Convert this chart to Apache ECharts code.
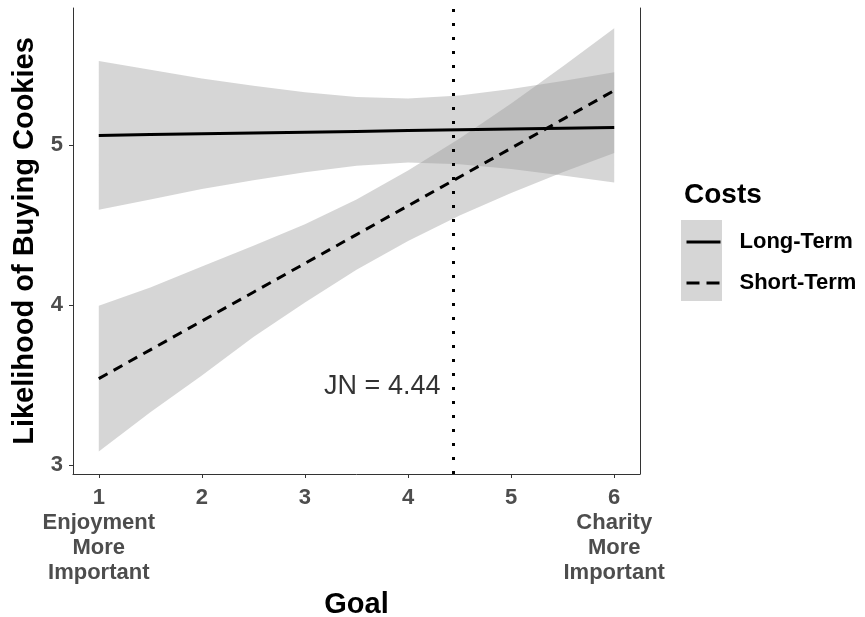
<!DOCTYPE html>
<html>
<head>
<meta charset="utf-8">
<script src="https://cdn.jsdelivr.net/npm/echarts@6/dist/echarts.min.js"></script>
<style>html,body{margin:0;padding:0;background:#fff}#c{width:865px;height:617px}</style>
</head>
<body>
<div id="c"></div>
<script>
// ---- data ----
const goalX = [1, 1.5, 2, 2.5, 3, 3.5, 4, 4.5, 5, 5.5, 6];
const longFit   = [5.06, 5.065, 5.07, 5.075, 5.08, 5.085, 5.09, 5.095, 5.10, 5.105, 5.11];
const longLower = [4.595, 4.66, 4.725, 4.78, 4.83, 4.87, 4.89, 4.88, 4.85, 4.81, 4.765];
const longUpper = [5.525, 5.47, 5.415, 5.37, 5.33, 5.30, 5.29, 5.31, 5.35, 5.40, 5.455];
const shortFit   = [3.54, 3.72, 3.90, 4.08, 4.26, 4.44, 4.62, 4.80, 4.98, 5.16, 5.34];
const shortLower = [3.085, 3.33, 3.56, 3.80, 4.015, 4.22, 4.40, 4.56, 4.70, 4.83, 4.95];
const shortUpper = [3.995, 4.11, 4.24, 4.37, 4.505, 4.66, 4.84, 5.04, 5.26, 5.49, 5.73];
const xTickValues = [1, 2, 3, 4, 5, 6];
const xTickLabels = ['1\nEnjoyment\nMore\nImportant', '2', '3', '4', '5', '6\nCharity\nMore\nImportant'];
const yTickValues = [3, 4, 5];
const seriesNames = ['Long-Term', 'Short-Term'];
const jnValue = 4.44;
const jnText = 'JN = 4.44';
const jnTextAt = [3.75, 3.49];

const FONT = "'Liberation Sans', Arial, sans-serif";
const chart = echarts.init(document.getElementById('c'), null, {renderer: 'canvas'});

function bandSeries(name, lower, upper) {
  return {
    type: 'custom',
    name: name,
    data: [[goalX[0], lower[0]]],
    silent: true,
    renderItem: function (params, api) {
      const pts = [];
      for (let i = 0; i < goalX.length; i++) pts.push(api.coord([goalX[i], upper[i]]));
      for (let i = goalX.length - 1; i >= 0; i--) pts.push(api.coord([goalX[i], lower[i]]));
      return {type: 'polygon', shape: {points: pts}, style: {fill: '#999999', opacity: 0.4}};
    }
  };
}
function fitSeries(name, fit, dash) {
  return {
    type: 'line', name: name,
    data: goalX.map((x, i) => [x, fit[i]]),
    symbol: 'none', showSymbol: false,
    lineStyle: {color: '#000', width: 3, type: dash},
    itemStyle: {color: '#000'}
  };
}

const yMin = 2.944, yMax = 5.856;
chart.setOption({
  animation: false,
  backgroundColor: '#fff',
  grid: {left: 73, right: 225, top: 8, bottom: 143, containLabel: false, outerBoundsMode: 'none'},
  title: {text: 'Costs', left: 679, top: 176,
    textStyle: {fontFamily: FONT, fontWeight: 'bold', fontSize: 28, color: '#000'}},
  legend: {
    data: [
      {name: seriesNames[0], lineStyle: {type: 'solid', width: 3}},
      {name: seriesNames[1], lineStyle: {type: [13, 7], width: 3}}
    ],
    orient: 'vertical', left: 685, top: 231, padding: 0,
    itemWidth: 34, itemHeight: 16, itemGap: 19, selectedMode: false,
    itemStyle: {opacity: 0},
    lineStyle: {width: 3},
    textStyle: {fontFamily: FONT, fontWeight: 'bold', fontSize: 22, color: '#000', padding: [0, 0, 0, 14]}
  },
  graphic: [{type: 'rect', left: 681, top: 220, shape: {width: 41, height: 81}, style: {fill: '#d6d6d6'}, z: 0}],
  xAxis: {
    type: 'value', min: 0.75, max: 6.25,
    name: 'Goal', nameLocation: 'middle', nameGap: 116,
    nameTextStyle: {fontFamily: FONT, fontWeight: 'bold', fontSize: 29, color: '#000'},
    axisLine: {show: true, lineStyle: {color: '#333', width: 1}},
    axisTick: {show: true, length: 4, lineStyle: {color: '#333'}, customValues: xTickValues},
    axisLabel: {customValues: xTickValues, margin: 11, lineHeight: 25,
      fontFamily: FONT, fontWeight: 'bold', fontSize: 22, color: '#4d4d4d',
      formatter: v => xTickLabels[xTickValues.indexOf(Math.round(v))] || ''},
    splitLine: {show: false}
  },
  yAxis: [{
    type: 'value', min: yMin, max: yMax,
    name: 'Likelihood of Buying Cookies', nameLocation: 'middle', nameGap: 31, nameRotate: 90,
    nameTextStyle: {fontFamily: FONT, fontWeight: 'bold', fontSize: 29, color: '#000'},
    axisLine: {show: true, lineStyle: {color: '#333', width: 1}},
    axisTick: {show: true, length: 4, lineStyle: {color: '#333'}, customValues: yTickValues},
    axisLabel: {customValues: yTickValues, margin: 10,
      fontFamily: FONT, fontWeight: 'bold', fontSize: 22, color: '#4d4d4d'},
    splitLine: {show: false}
  }, {
    type: 'value', min: yMin, max: yMax, position: 'right',
    axisLine: {show: true, lineStyle: {color: '#333', width: 1}},
    axisTick: {show: false}, axisLabel: {show: false}, splitLine: {show: false}
  }],
  series: [
    bandSeries('Long-Term band', longLower, longUpper),
    fitSeries(seriesNames[0], longFit, 'solid'),
    bandSeries('Short-Term band', shortLower, shortUpper),
    fitSeries(seriesNames[1], shortFit, [10, 7]),
    {
      type: 'scatter', name: 'JN', data: [jnTextAt], symbolSize: 0, silent: true,
      label: {show: true, position: 'inside', formatter: jnText,
        fontFamily: FONT, fontSize: 27, color: '#000'},
      markLine: {
        silent: true, symbol: 'none', label: {show: false},
        lineStyle: {color: '#000', width: 3, type: [3, 11]},
        data: [{xAxis: jnValue}]
      }
    }
  ]
});
</script>
</body>
</html>
